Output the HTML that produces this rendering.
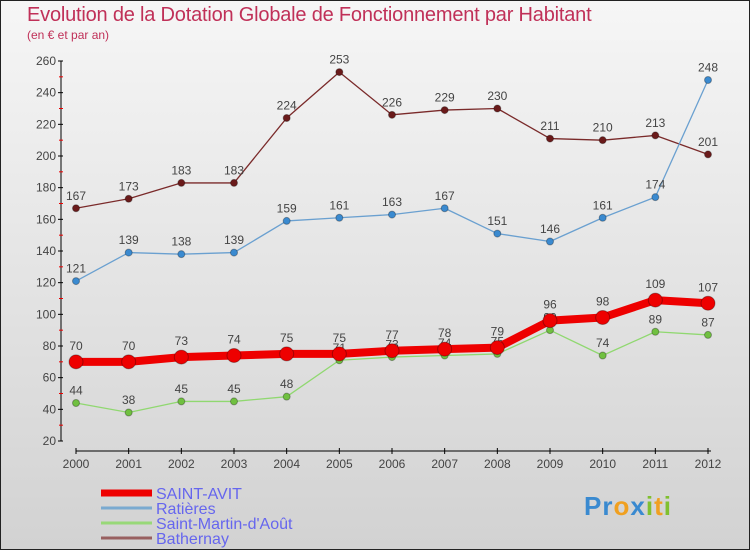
<!DOCTYPE html>
<html><head><meta charset="utf-8"><style>
body{margin:0}
#c{width:750px;height:550px;position:relative;box-sizing:border-box;border:1px solid #222;background:linear-gradient(#f6f6f6,#d2d2d2);font-family:"Liberation Sans",sans-serif;overflow:hidden}
.t{position:absolute;left:26px;top:3px;font-size:20px;color:#c03058;letter-spacing:-0.2px}
.s{position:absolute;left:26px;top:27px;font-size:12px;color:#c03058}
</style></head><body>
<div id="c">
<div class="t">Evolution de la Dotation Globale de Fonctionnement par Habitant</div>
<div class="s">(en € et par an)</div>
<svg id="g" width="750" height="550" style="position:absolute;left:0;top:0"></svg>
<div style="position:absolute;left:583px;top:490px;font-size:26px;font-weight:bold;letter-spacing:1px"><span style="color:#3a8ad0">Pr</span><span style="color:#f0a020">o</span><span style="color:#3a8ad0">x</span><span style="color:#80c030">i</span><span style="color:#f0a020">t</span><span style="color:#80c030">i</span></div>
</div>
<script>
const years=[2000,2001,2002,2003,2004,2005,2006,2007,2008,2009,2010,2011,2012];
const yTicks=[20,40,60,80,100,120,140,160,180,200,220,240,260];
const saintAvit=[70,70,73,74,75,75,77,78,79,96,98,109,107];
const ratieres=[121,139,138,139,159,161,163,167,151,146,161,174,248];
const saintMartin=[44,38,45,45,48,71,73,74,75,90,74,89,87];
const bathernay=[167,173,183,183,224,253,226,229,230,211,210,213,201];
const NS="http://www.w3.org/2000/svg",svg=document.getElementById('g');
const X=i=>75+i*(632/12), Y=v=>440-(v-20)*(380/240);
function el(t,a,p){const e=document.createElementNS(NS,t);for(const k in a)e.setAttribute(k,a[k]);(p||svg).appendChild(e);return e;}
let e=el('line',{x1:60,y1:60,x2:60,y2:440,stroke:'#000'});

e=el('line',{x1:75,y1:450,x2:710,y2:450,stroke:'#000'});

yTicks.forEach((v,i)=>{el('line',{x1:57,x2:62,y1:Y(v),y2:Y(v),stroke:'#000'});
 if(i<yTicks.length-1)el('line',{x1:58,x2:62,y1:Y(v+10),y2:Y(v+10),stroke:'#e00'});
 const t=el('text',{x:55,y:Y(v)+4,'text-anchor':'end','font-size':12,fill:'#444'});t.textContent=v;
 });
years.forEach((yr,i)=>{el('line',{x1:X(i),x2:X(i),y1:447,y2:453,stroke:'#000'});
 const t=el('text',{x:X(i),y:467,'text-anchor':'middle','font-size':12,fill:'#444'});t.textContent=yr;
 });
function series(d,col,dot,w,r,name){
 const g=el('g',{});
 el('polyline',{points:d.map((v,i)=>X(i)+','+Y(v)).join(' '),fill:'none',stroke:col,'stroke-width':w,'stroke-linejoin':'round'},g);
 d.forEach((v,i)=>{const c=el('circle',{cx:X(i),cy:Y(v),r:r,fill:dot,stroke:'rgba(0,0,0,0.3)'},g);
  
  const t=el('text',{x:X(i),y:Y(v)-r-5,'text-anchor':'middle','font-size':12,fill:'#444'},g);t.textContent=v;
  });
}
series(bathernay,'#7a2a2a','#6a1a1a',1.3,3.5,'bathernay');
series(ratieres,'#6aa0d0','#3a8ad0',1.3,3.5,'ratieres');
series(saintMartin,'#90d870','#70c040',1.3,3.5,'saint-martin');
series(saintAvit,'#ee0000','#ee0000',8,7,'saint-avit');
const leg=[['SAINT-AVIT','#ee0000',7],['Ratières','#7aaad0',3],['Saint-Martin-d\'Août','#98d878',3],['Bathernay','#986060',3]];
leg.forEach((l,i)=>{const y=492+i*15;
 const g=el('g',{});
 el('line',{x1:100,x2:151,y1:y,y2:y,stroke:l[1],'stroke-width':l[2]},g);
 const t=el('text',{x:155,y:y+6,'font-size':16,fill:'#6666ee'},g);t.textContent=l[0];});
</script>
</body></html>
